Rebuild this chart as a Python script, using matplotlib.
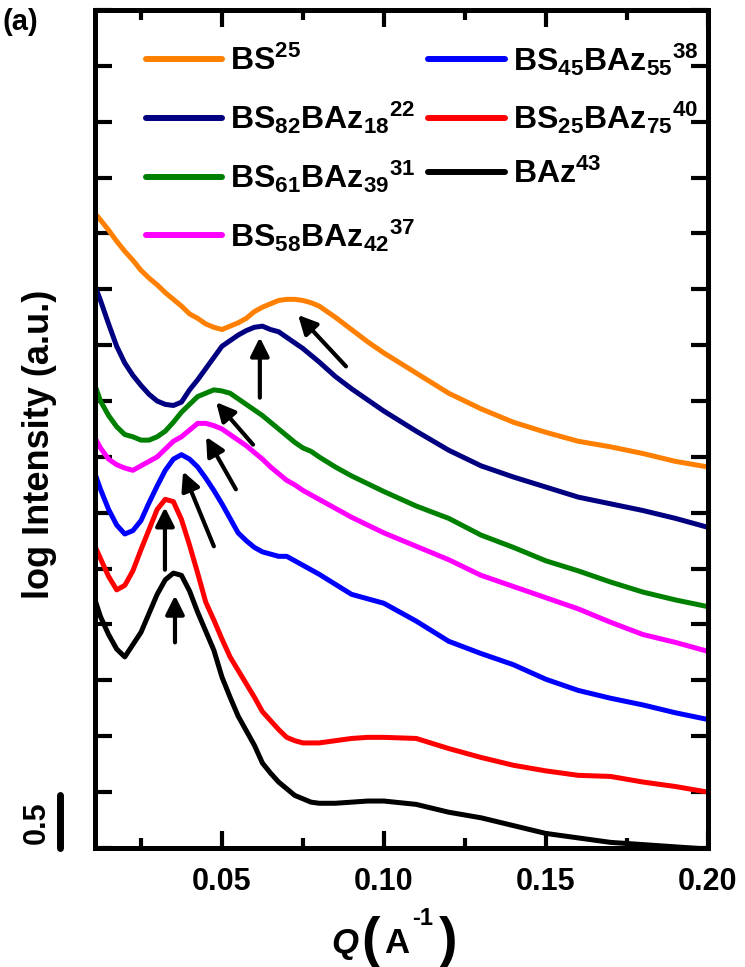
import numpy as np
import matplotlib
matplotlib.use('Agg')
import matplotlib.pyplot as plt
from matplotlib.ticker import MultipleLocator, FormatStrFormatter
import matplotlib.transforms as mtransforms

plt.rcParams['font.family'] = ['Liberation Sans', 'DejaVu Sans']
plt.rcParams['font.weight'] = 'bold'
plt.rcParams['mathtext.fontset'] = 'custom'
plt.rcParams['mathtext.rm'] = 'Liberation Sans:bold'
plt.rcParams['mathtext.bf'] = 'Liberation Sans:bold'
plt.rcParams['mathtext.it'] = 'Liberation Sans:bold:italic'

# Q values (A^-1)
q = [0.0108, 0.0125, 0.015, 0.0175, 0.02, 0.0225, 0.025, 0.0275, 0.03, 0.0325,
     0.035, 0.0375, 0.04, 0.0425, 0.045, 0.0475, 0.05, 0.0525, 0.055, 0.0575,
     0.06, 0.0625, 0.065, 0.0675, 0.07, 0.0725, 0.075, 0.0775, 0.08, 0.085,
     0.09, 0.095, 0.10, 0.11, 0.12, 0.13, 0.14, 0.15, 0.16, 0.17,
     0.18, 0.19, 0.20]

# log intensity, shifted for clarity
bs25 = [5.68, 5.62, 5.53, 5.43, 5.34, 5.26, 5.17, 5.10, 5.04, 4.97,
        4.91, 4.85, 4.78, 4.74, 4.69, 4.66, 4.64, 4.67, 4.70, 4.74,
        4.80, 4.84, 4.87, 4.90, 4.91, 4.91, 4.90, 4.88, 4.85, 4.75,
        4.64, 4.53, 4.43, 4.25, 4.07, 3.93, 3.81, 3.72, 3.64, 3.59,
        3.53, 3.46, 3.41]
bs82 = [5.03, 4.90, 4.69, 4.49, 4.34, 4.23, 4.14, 4.06, 4.00, 3.97,
        3.96, 3.99, 4.10, 4.19, 4.29, 4.39, 4.49, 4.54, 4.59, 4.63,
        4.66, 4.67, 4.64, 4.62, 4.57, 4.52, 4.47, 4.41, 4.35, 4.22,
        4.11, 4.01, 3.91, 3.73, 3.56, 3.42, 3.32, 3.23, 3.14, 3.08,
        3.02, 2.95, 2.87]
bs61 = [4.14, 4.00, 3.87, 3.77, 3.70, 3.68, 3.65, 3.65, 3.68, 3.73,
        3.81, 3.90, 3.97, 4.04, 4.07, 4.10, 4.09, 4.07, 4.02, 3.97,
        3.92, 3.87, 3.81, 3.75, 3.69, 3.63, 3.58, 3.55, 3.50, 3.41,
        3.33, 3.26, 3.19, 3.06, 2.95, 2.80, 2.69, 2.57, 2.48, 2.38,
        2.29, 2.22, 2.16]
bs58 = [3.67, 3.58, 3.48, 3.43, 3.40, 3.38, 3.42, 3.46, 3.50, 3.57,
        3.64, 3.68, 3.74, 3.80, 3.80, 3.78, 3.75, 3.70, 3.65, 3.60,
        3.54, 3.48, 3.41, 3.35, 3.29, 3.25, 3.20, 3.16, 3.12, 3.04,
        2.96, 2.89, 2.82, 2.70, 2.58, 2.44, 2.34, 2.24, 2.14, 2.02,
        1.91, 1.84, 1.76]
bs45 = [3.35, 3.21, 3.03, 2.89, 2.81, 2.84, 2.93, 3.09, 3.24, 3.38,
        3.48, 3.52, 3.48, 3.41, 3.31, 3.20, 3.08, 2.95, 2.82, 2.75,
        2.69, 2.65, 2.63, 2.61, 2.61, 2.57, 2.53, 2.49, 2.45, 2.36,
        2.27, 2.23, 2.19, 2.03, 1.85, 1.74, 1.64, 1.51, 1.41, 1.34,
        1.28, 1.21, 1.15]
bs25b = [2.70, 2.59, 2.43, 2.31, 2.35, 2.48, 2.67, 2.85, 3.03, 3.12,
         3.10, 2.94, 2.71, 2.46, 2.20, 2.04, 1.87, 1.71, 1.59, 1.47,
         1.35, 1.22, 1.14, 1.06, 0.99, 0.96, 0.94, 0.94, 0.94, 0.96,
         0.98, 0.99, 0.99, 0.98, 0.89, 0.81, 0.74, 0.69, 0.65, 0.64,
         0.59, 0.55, 0.50]
baz43 = [2.22, 2.07, 1.91, 1.78, 1.71, 1.82, 1.93, 2.10, 2.27, 2.40,
         2.46, 2.44, 2.30, 2.11, 1.94, 1.77, 1.53, 1.35, 1.18, 1.05,
         0.92, 0.76, 0.67, 0.59, 0.53, 0.47, 0.44, 0.41, 0.40, 0.40,
         0.41, 0.42, 0.42, 0.39, 0.32, 0.27, 0.20, 0.13, 0.09, 0.05,
         0.03, 0.01, -0.01]

labels = [r'$\mathrm{BS}^{25}$',
          r'$\mathrm{BS}_{82}\mathrm{BAz}_{18}{}^{22}$',
          r'$\mathrm{BS}_{61}\mathrm{BAz}_{39}{}^{31}$',
          r'$\mathrm{BS}_{58}\mathrm{BAz}_{42}{}^{37}$',
          r'$\mathrm{BS}_{45}\mathrm{BAz}_{55}{}^{38}$',
          r'$\mathrm{BS}_{25}\mathrm{BAz}_{75}{}^{40}$',
          r'$\mathrm{BAz}^{43}$']
colors = ['#FF8000', '#000080', '#008000', '#FF00FF', '#0000FF', '#FF0000', '#000000']
series = [bs25, bs82, bs61, bs58, bs45, bs25b, baz43]

# peak arrows: (tip Q, tip y, tail Q, tail y)
arrows = [(0.0735, 4.77, 0.0883, 4.31),
          (0.0617, 4.57, 0.0617, 4.03),
          (0.0482, 3.99, 0.0596, 3.61),
          (0.0451, 3.68, 0.0543, 3.21),
          (0.0380, 3.37, 0.0475, 2.70),
          (0.0324, 3.05, 0.0324, 2.49),
          (0.0355, 2.26, 0.0355, 1.84)]

fig = plt.figure(figsize=(7.45, 9.67), dpi=100)
ax = fig.add_axes([0.1275, 0.1231, 0.8225, 0.8666])

for y, c, lab in zip(series, colors, labels):
    ax.plot(q, y, color=c, lw=3.6, label=lab, solid_joinstyle='round')

for tq, ty, sq, sy in arrows:
    ax.annotate('', xy=(tq, ty), xytext=(sq, sy),
                arrowprops=dict(arrowstyle='-|>', color='k', lw=3,
                                mutation_scale=28, shrinkA=0, shrinkB=0))

ax.set_xlim(0.0108, 0.20)
ax.set_ylim(0, 7.5)
ax.xaxis.set_major_locator(MultipleLocator(0.05))
ax.xaxis.set_minor_locator(MultipleLocator(0.025))
ax.yaxis.set_major_locator(MultipleLocator(0.5))
ax.xaxis.set_major_formatter(FormatStrFormatter('%.2f'))
ax.tick_params(which='both', direction='in', top=True, right=True, width=3)
ax.tick_params(which='major', length=12)
ax.tick_params(which='minor', length=7)
ax.tick_params(axis='x', labelsize=22, pad=14)
ax.tick_params(axis='y', labelleft=False)
for s in ax.spines.values():
    s.set_linewidth(3.6)

# x label: Q (A^-1) with tall parentheses
W, H = 745.0, 967.0
fig.text(345 / W, 1 - 953 / H, 'Q', ha='center', va='baseline', fontsize=25,
         fontweight='bold', fontstyle='italic')
fig.text(370 / W, 1 - 956 / H, '(', ha='center', va='baseline', fontsize=40,
         fontweight='bold')
fig.text(397 / W, 1 - 953 / H, 'A', ha='center', va='baseline', fontsize=25,
         fontweight='bold')
fig.text(423 / W, 1 - 925 / H, '-1', ha='center', va='baseline', fontsize=17,
         fontweight='bold')
fig.text(448 / W, 1 - 956 / H, ')', ha='center', va='baseline', fontsize=40,
         fontweight='bold')

fig.text(40 / W, 1 - 444 / H, 'log Intensity (a.u.)', rotation=90,
         ha='center', va='center', fontsize=26, fontweight='bold')

# 0.5 scale bar
tr = mtransforms.blended_transform_factory(ax.transAxes, ax.transData)
ax.plot([-0.057, -0.057], [0.0, 0.47], transform=tr, color='k', lw=5,
        solid_capstyle='round', clip_on=False)
ax.text(-0.095, 0.23, '0.5', transform=tr, rotation=90, ha='center', va='center',
        fontsize=22, fontweight='bold')

fig.text(0.004, 0.992, '(a)', ha='left', va='top', fontsize=21, fontweight='bold')

leg = ax.legend(loc='upper left', bbox_to_anchor=(0.062, 0.978), ncol=2, frameon=False,
                fontsize=23, handlelength=2.4, handletextpad=0.25, columnspacing=0.4,
                labelspacing=0.7, borderaxespad=0)
for h in leg.get_lines():
    h.set_linewidth(4.3)
    h.set_solid_capstyle('round')

fig.savefig('out.png', dpi=100)
